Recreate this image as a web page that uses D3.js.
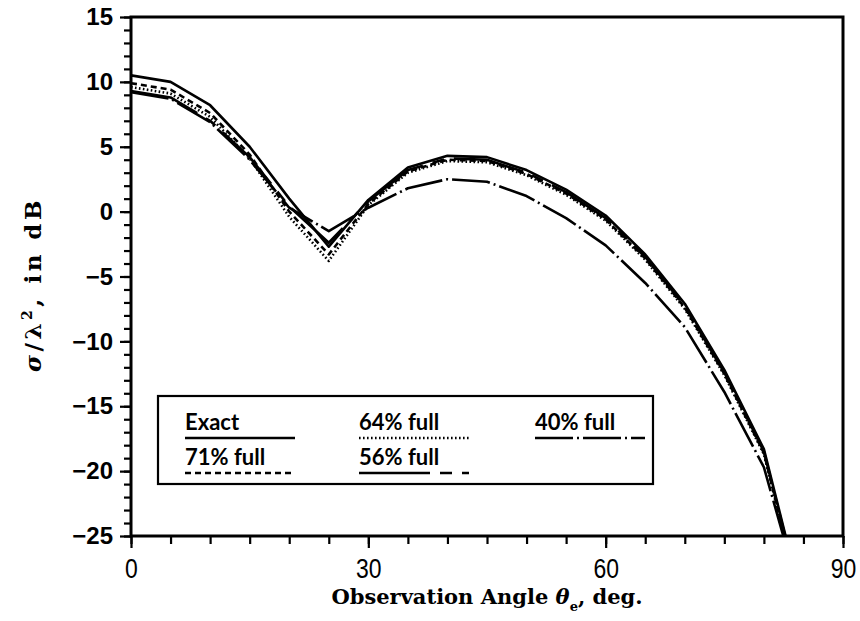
<!DOCTYPE html>
<html>
<head>
<meta charset="utf-8">
<script src="https://cdn.jsdelivr.net/npm/d3@7"></script>
<style>
  html, body { margin: 0; padding: 0; background: #fff; }
  svg { display: block; }
</style>
</head>
<body>
<svg id="chart" width="860" height="621"></svg>
<script>
// Observation angles (deg) at which the scattering width was computed
const angles = [0, 5, 10, 15, 20, 25, 30, 35, 40, 45, 50, 55, 60, 65, 70, 75, 80, 85];

// sigma / lambda^2 in dB for each fill ratio
const exact   = [10.5, 10.0, 8.2, 5.0, 1.0, -2.7, 0.9, 3.4, 4.3, 4.2, 3.2, 1.7, -0.3, -3.3, -7.1, -12.2, -18.3, -30.5];
const full71  = [9.9, 9.4, 7.6, 4.4, 0.0, -3.3, 0.6, 3.1, 4.0, 3.9, 2.9, 1.4, -0.6, -3.6, -7.4, -12.5, -18.6, -30.8];
const full64  = [9.6, 9.1, 7.3, 4.1, -0.4, -3.8, 0.5, 3.0, 3.9, 3.8, 2.8, 1.3, -0.7, -3.7, -7.5, -12.6, -18.7, -31.0];
const full56  = [9.3, 8.8, 7.0, 4.2, 0.4, -2.4, 0.8, 3.2, 4.1, 4.0, 3.0, 1.5, -0.5, -3.5, -7.3, -12.4, -18.5, -30.6];
const full40  = [9.2, 8.7, 6.9, 4.0, 0.3, -1.5, 0.3, 1.8, 2.5, 2.3, 1.2, -0.5, -2.6, -5.5, -8.9, -13.9, -19.7, -30.5];

// Axis ticks
const xTicks = [0, 30, 60, 90];
const yTicks = [15, 10, 5, 0, -5, -10, -15, -20, -25];

// Legend labels in reading order (two rows, three columns)
const seriesNames = ["Exact", "64% full", "40% full", "71% full", "56% full"];

const series = [
  { name: "Exact",    values: exact,  dash: null },
  { name: "71% full", values: full71, dash: "6,4" },
  { name: "64% full", values: full64, dash: "1.6,2.4" },
  { name: "56% full", values: full56, dash: "71,10,12,10" },
  { name: "40% full", values: full40, dash: "38,4,2,4" }
];

const svg = d3.select("#chart");
const margin = { left: 131, top: 17, right: 17, bottom: 85 };
const W = 860 - margin.left - margin.right;
const H = 621 - margin.top - margin.bottom;

const x = d3.scaleLinear().domain([0, 90]).range([0, W]);
const y = d3.scaleLinear().domain([-25, 15]).range([H, 0]);

const g = svg.append("g").attr("transform", `translate(${margin.left},${margin.top})`);

g.append("clipPath").attr("id", "plotClip")
  .append("rect").attr("x", 0).attr("y", 0).attr("width", W).attr("height", H);

const fmt = d => (d < 0 ? "\u2212" + Math.abs(d) : String(d));

// Minor ticks (outward), every 1 dB on y and every 5 deg on x
const yAxisMinor = d3.axisLeft(y).tickValues(d3.range(-25, 16, 1)).tickSize(7).tickFormat("");
const yAxisMajor = d3.axisLeft(y).tickValues(yTicks).tickSize(11).tickPadding(7).tickFormat(fmt);
const xAxisMinor = d3.axisBottom(x).tickValues(d3.range(0, 91, 5)).tickSize(8).tickFormat("");
const xAxisMajor = d3.axisBottom(x).tickValues(xTicks).tickSize(12).tickPadding(10).tickFormat(d3.format("d"));

function styleAxis(sel) {
  sel.select(".domain").remove();
  sel.selectAll(".tick line").attr("stroke", "#000").attr("stroke-width", 2.2);
}

g.append("g").call(yAxisMinor).call(styleAxis);
g.append("g").call(yAxisMajor).call(styleAxis)
  .selectAll("text")
  .attr("font-family", "'Liberation Sans', Arial, sans-serif")
  .attr("font-weight", "bold")
  .attr("font-size", 24)
  .attr("fill", "#000");

g.append("g").attr("transform", `translate(0,${H})`).call(xAxisMinor).call(styleAxis);
g.append("g").attr("transform", `translate(0,${H})`).call(xAxisMajor).call(styleAxis)
  .selectAll("text")
  .attr("font-family", "'Liberation Sans', sans-serif")
  .attr("font-size", 28)
  .attr("transform", "scale(0.82,1)")
  .attr("fill", "#000");

// Data curves
const line = d3.line()
  .x((d, i) => x(angles[i]))
  .y(d => y(d));

const curves = g.append("g").attr("clip-path", "url(#plotClip)");
series.forEach(s => {
  curves.append("path")
    .datum(s.values)
    .attr("d", line)
    .attr("fill", "none")
    .attr("stroke", "#000")
    .attr("stroke-width", 2.6)
    .attr("stroke-linejoin", "round")
    .attr("stroke-dasharray", s.dash);
});

// Plot frame
g.append("rect")
  .attr("x", 0).attr("y", 0).attr("width", W).attr("height", H)
  .attr("fill", "none").attr("stroke", "#000").attr("stroke-width", 3);

// Legend
const legend = g.append("g").attr("transform", `translate(${158 - margin.left},${396 - margin.top})`);
legend.append("rect")
  .attr("width", 495).attr("height", 88)
  .attr("fill", "#fff").attr("stroke", "#000").attr("stroke-width", 2.2);

const colX = [27, 201, 377];
const rowY = [34, 69];
seriesNames.forEach((name, k) => {
  const s = series.find(t => t.name === name);
  const cx = colX[k % 3], ry = rowY[Math.floor(k / 3)];
  legend.append("text")
    .attr("x", cx).attr("y", ry)
    .attr("font-family", "Lato, 'Liberation Sans', sans-serif")
    .attr("font-weight", 700)
    .attr("font-size", 22)
    .attr("fill", "#000")
    .text(name);
  legend.append("line")
    .attr("x1", cx).attr("x2", cx + 110)
    .attr("y1", ry + 8).attr("y2", ry + 8)
    .attr("stroke", "#000").attr("stroke-width", 2.6)
    .attr("stroke-dasharray", s.dash);
});

// Axis titles
const titleFont = "'DejaVu Serif', 'Liberation Serif', serif";
const xt = svg.append("text")
  .attr("x", margin.left + W / 2).attr("y", 604)
  .attr("text-anchor", "middle")
  .attr("font-family", titleFont)
  .attr("font-weight", "bold")
  .attr("font-size", 21)
  .attr("fill", "#000");
xt.append("tspan").text("Observation Angle ");
xt.append("tspan").attr("font-style", "italic").text("\u03B8");
xt.append("tspan").attr("font-size", 13).attr("dy", 7).text("e");
xt.append("tspan").attr("dy", -7).text(", deg.");

const yt = svg.append("text")
  .attr("transform", `translate(41,${margin.top + H / 2 + 8}) rotate(-90)`)
  .attr("text-anchor", "middle")
  .attr("font-family", titleFont)
  .attr("font-weight", "bold")
  .attr("font-size", 23)
  .attr("letter-spacing", 3.5)
  .attr("fill", "#000");
yt.append("tspan").attr("font-style", "italic").text("\u03C3");
yt.append("tspan").text("/\u03BB");
yt.append("tspan").attr("font-size", 14).attr("dy", -9).text("2");
yt.append("tspan").attr("dy", 9).text(", in dB");
</script>
</body>
</html>
